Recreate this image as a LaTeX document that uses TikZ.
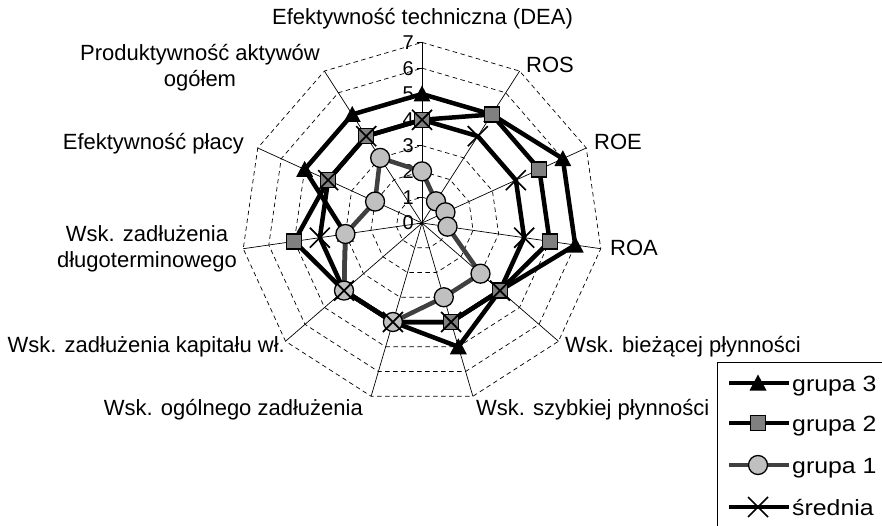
\documentclass[tikz,border=0pt]{standalone}
\usepackage{fontspec}
\setmainfont{Liberation Sans}
\definecolor{gtwofill}{HTML}{808080}
\definecolor{gonefill}{HTML}{C0C0C0}
\definecolor{gonelinec}{HTML}{404040}
\tikzset{
  gridline/.style={line width=0.7pt, dash pattern=on 4.5pt off 3.5pt},
  axisline/.style={line width=0.7pt},
  serline/.style={line width=4.5pt, line join=round},
  gonel/.style={serline, draw=gonelinec},
  lbl/.style={inner sep=0pt, font=\fontsize{22}{26}\selectfont},
  numl/.style={inner sep=0pt, font=\fontsize{20}{24}\selectfont, anchor=east},
  legtxt/.style={inner sep=0pt, anchor=base west, font=\fontsize{22}{26}\selectfont}
}
\newcommand{\mtri}[1]{\fill[black] (#1) ++(0,8.5) -- ++(-8.5,-16) -- ++(17,0) -- cycle;}
\newcommand{\msq}[1]{\filldraw[fill=gtwofill, draw=black, line width=1.3pt] (#1) ++(-7.5,-7.5) rectangle ++(15,15);}
\newcommand{\mcirc}[1]{\filldraw[fill=gonefill, draw=black, line width=1.3pt] (#1) circle (9.5);}
\newcommand{\mxx}[1]{\draw[line width=1.7pt] (#1) ++(-10,-10) -- ++(20,20) (#1) ++(-10,10) -- ++(20,-20);}
\newcommand{\legstr}[1]{\scalebox{1.13}[1]{#1}}
\begin{document}
\begin{tikzpicture}[x=1pt,y=1pt]
\useasboundingbox (0,0) rectangle (882,-526);
\def\u{25.8}
\begin{scope}[shift={(422,-223)}]
  \coordinate (C) at (0,0);
  % grid polygons
  \foreach \k in {1,...,7}{
    \draw[gridline] (90:\k*\u) \foreach \i in {1,...,10}{ -- ({90-\i*360/11}:\k*\u)} -- cycle;
  }
  % axes
  \foreach \i in {0,...,10}{
    \coordinate (ax\i) at ({90-\i*360/11}:7*\u);
    \draw[axisline] (C) -- (ax\i);
  }
  % ticks and scale labels
  \foreach \k in {0,...,7}{
    \draw[axisline] (-5,\k*\u) -- (0,\k*\u);
    \node[numl] (num\k) at (-8,\k*\u) {\k};
  }
  % data
  \foreach \v [count=\i from 0] in {5,5,6,6,4,5,4,4,3,5,5}
    \coordinate (g3-\i) at ({90-\i*360/11}:\v*\u);
  \foreach \v [count=\i from 0] in {4,5,5,5,4,4,4,4,5,4,4}
    \coordinate (g2-\i) at ({90-\i*360/11}:\v*\u);
  \foreach \v [count=\i from 0] in {2,1,1,1,3,3,4,4,3,2,3}
    \coordinate (g1-\i) at ({90-\i*360/11}:\v*\u);
  \foreach \v [count=\i from 0] in {4,4,4,4,4,4,4,4,4,4,4}
    \coordinate (sr-\i) at ({90-\i*360/11}:\v*\u);
  % series lines
  \draw[serline] (g3-0) \foreach \i in {1,...,10}{ -- (g3-\i)} -- cycle;
  \draw[serline] (g2-0) \foreach \i in {1,...,10}{ -- (g2-\i)} -- cycle;
  \draw[gonel] (g1-0) \foreach \i in {1,...,10}{ -- (g1-\i)} -- cycle;
  \draw[serline] (sr-0) \foreach \i in {1,...,10}{ -- (sr-\i)} -- cycle;
  % markers
  \foreach \i in {0,...,10}{ \mtri{g3-\i} }
  \foreach \i in {0,...,10}{ \msq{g2-\i} }
  \foreach \i in {0,...,10}{ \mcirc{g1-\i} }
  \foreach \i in {0,...,10}{ \mxx{sr-\i} }
\end{scope}
% axis labels
\node[lbl, anchor=base] (t0) at (422.5,-25) {Efektywność techniczna (DEA)};
\node[lbl, anchor=base west] (t1) at (526,-72.7) {ROS};
\node[lbl, anchor=base west] (t2) at (594,-150) {ROE};
\node[lbl, anchor=base west] (t3) at (610,-255) {ROA};
\node[lbl, anchor=base west] (t4) at (565,-352) {Wsk. bieżącej płynności};
\node[lbl, anchor=base west] (t5) at (476,-415) {Wsk. szybkiej płynności};
\node[lbl, anchor=base east] (t6) at (363,-415) {Wsk. ogólnego zadłużenia};
\node[lbl, anchor=base east] (t7) at (285,-352) {Wsk. zadłużenia kapitału wł.};
\node[lbl, anchor=base] (t8a) at (147,-242) {Wsk. zadłużenia};
\node[lbl, anchor=base] (t8b) at (147,-268) {długoterminowego};
\node[lbl, anchor=base east] (t9) at (244,-150) {Efektywność płacy};
\node[lbl, anchor=base] (t10a) at (200,-61) {Produktywność aktywów};
\node[lbl, anchor=base] (t10b) at (200,-87) {ogółem};
% legend
\draw[line width=0.8pt] (882,-362) -- (717,-362) -- (717,-526);
\foreach \y/\n in {383/a,423/b,465/c,507/d}{
  \coordinate (l\n1) at (729,-\y);
  \coordinate (l\n2) at (789,-\y);
  \coordinate (l\n) at (758,-\y);
}
\draw[serline] (la1) -- (la2);
\mtri{la}
\draw[serline] (lb1) -- (lb2);
\msq{lb}
\draw[gonel] (lc1) -- (lc2);
\mcirc{lc}
\draw[serline] (ld1) -- (ld2);
\mxx{ld}
\node[legtxt] (lta) at (792,-391) {\legstr{grupa 3}};
\node[legtxt] (ltb) at (792,-431) {\legstr{grupa 2}};
\node[legtxt] (ltc) at (792,-473) {\legstr{grupa 1}};
\node[legtxt] (ltd) at (792,-515) {\legstr{średnia}};
\end{tikzpicture}
\end{document}
